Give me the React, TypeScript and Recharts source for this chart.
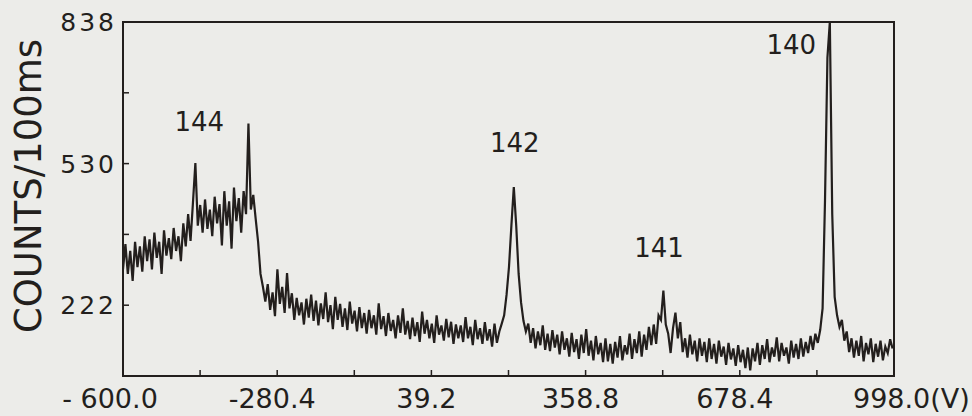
import { LineChart, Line, XAxis, YAxis, ReferenceArea, ReferenceDot } from 'recharts';

const INK = '#231f1d';
const PAPER = '#ecece9';
const FONT = '"DejaVu Sans", sans-serif';

// sampling grid of the recorded spectrum (V)
const VOLT_START = -600;
const VOLT_STEP = 5;

// counts, 20 samples per 100 V
const riseA = [300, 355, 290, 340, 275, 360, 305, 350, 295, 372, 318, 365, 300, 380, 325, 360, 290, 385, 330, 368];
const riseB = [322, 390, 340, 372, 318, 400, 350, 420, 362, 445, 531, 395, 440, 380, 452, 388, 430, 372, 458, 400];
const plateau = [442, 352, 470, 395, 448, 345, 478, 405, 455, 380, 470, 420, 617, 430, 462, 410, 360, 290, 262, 230];
const tailA = [268, 212, 250, 198, 300, 225, 262, 205, 292, 215, 248, 190, 238, 200, 228, 180, 236, 195, 245, 188];
const tailB = [232, 178, 226, 192, 250, 185, 222, 170, 240, 190, 225, 175, 215, 168, 230, 182, 210, 165, 218, 172];
const tailC = [205, 160, 212, 172, 200, 158, 226, 170, 198, 155, 205, 166, 190, 150, 200, 162, 215, 158, 188, 148];
const tailD = [195, 155, 185, 142, 208, 160, 190, 150, 182, 140, 200, 158, 178, 145, 192, 152, 186, 138, 180, 150];
const tailE = [178, 142, 196, 150, 175, 135, 190, 148, 172, 138, 185, 145, 170, 132, 182, 140, 165, 182, 200, 245];
const peak142 = [305, 395, 479, 395, 290, 228, 188, 165, 182, 140, 172, 128, 165, 135, 178, 125, 160, 122, 168, 130];
const floorA = [158, 115, 165, 125, 150, 110, 162, 120, 148, 105, 158, 118, 170, 112, 145, 102, 155, 115, 140, 98];
const floorB = [150, 100, 138, 95, 142, 108, 155, 102, 135, 115, 160, 105, 148, 118, 165, 110, 158, 125, 175, 135];
const peak141 = [180, 138, 200, 190, 254, 180, 160, 118, 172, 206, 150, 185, 120, 150, 108, 158, 115, 145, 100, 150];
const floorC = [112, 142, 98, 150, 105, 138, 95, 145, 110, 132, 92, 140, 104, 128, 90, 135, 98, 125, 85, 130];
const floorD = [80, 128, 100, 140, 92, 135, 105, 148, 98, 130, 110, 152, 100, 140, 112, 130, 95, 145, 108, 138];
const peak140 = [105, 150, 110, 142, 118, 155, 125, 160, 140, 168, 215, 450, 760, 838, 420, 240, 200, 175, 190, 145];
const floorE = [165, 120, 150, 108, 145, 112, 155, 100, 140, 115, 150, 98, 138, 110, 145, 102, 132, 118, 148, 128];

const segments = [riseA, riseB, plateau, tailA, tailB, tailC, tailD, tailE, peak142, floorA, floorB, peak141, floorC, floorD, peak140, floorE];

const spectrum = segments.flat().map((counts, i) => ({ volt: VOLT_START + i * VOLT_STEP, counts }));

const voltTicks = [-600, -440.2, -280.4, -120.6, 39.2, 199, 358.8, 518.6, 678.4, 838.2, 998];
const voltLabels = [-600, -280.4, 39.2, 358.8, 678.4, 998];
const voltLabelText = ['- 600.0', '-280.4', '39.2', '358.8', '678.4', '998.0(V)'];
const countTicks = [68, 222, 376, 530, 684, 838];
const countLabels = [222, 530, 838];

const peakLabels = [
  { volt: -442, counts: 620, text: '144' },
  { volt: 212, counts: 574, text: '142' },
  { volt: 511, counts: 347, text: '141' },
  { volt: 785, counts: 788, text: '140' },
];

const labelIndex = (list: number[], v: number) => list.findIndex((l) => Math.abs(l - v) < 0.01);

function VoltTick(props: any) {
  const { x, y, payload } = props;
  const idx = labelIndex(voltLabels, payload.value);
  const last = idx === voltLabels.length - 1;
  return (
    <g>
      <line x1={x} y1={y} x2={x} y2={y - 6} stroke={INK} strokeWidth={1.5} />
      {idx >= 0 && (
        <text
          x={last ? x - 41 : x - (idx === 0 ? 13 : 5)}
          y={y + 32}
          textAnchor={last ? 'start' : 'middle'}
          fill={INK}
          fontSize={27}
          fontFamily={FONT}
        >
          {voltLabelText[idx]}
        </text>
      )}
    </g>
  );
}

function CountTick(props: any) {
  const { x, y, payload } = props;
  const v = payload.value;
  return (
    <g>
      <line x1={x} y1={y} x2={x + 6} y2={y} stroke={INK} strokeWidth={1.5} />
      {labelIndex(countLabels, v) >= 0 && (
        <text
          x={x - 6}
          y={y + 9}
          textAnchor="end"
          fill={INK}
          fontSize={25}
          letterSpacing={3}
          fontFamily={FONT}
        >
          {v}
        </text>
      )}
    </g>
  );
}

function AxisTitle(props: any) {
  const { viewBox } = props;
  const cx = viewBox.x + 28;
  const cy = viewBox.y + viewBox.height / 2 - 13;
  return (
    <text
      x={cx}
      y={cy}
      transform={`rotate(-90 ${cx} ${cy})`}
      textAnchor="middle"
      dominantBaseline="central"
      fill={INK}
      fontSize={37}
      fontFamily={FONT}
    >
      COUNTS/100ms
    </text>
  );
}

function PeakLabel(props: any) {
  const { viewBox, value } = props;
  return (
    <text
      x={viewBox.x}
      y={viewBox.y}
      textAnchor="middle"
      dominantBaseline="central"
      fill={INK}
      fontSize={26}
      fontFamily={FONT}
    >
      {value}
    </text>
  );
}

export default function App() {
  return (
    <div style={{ position: 'absolute', left: 0, top: 0, width: 972, height: 416, background: PAPER }}>
      <LineChart width={972} height={416} data={spectrum} margin={{ top: 22, right: 78, bottom: 0, left: 0 }}>
        <XAxis
          dataKey="volt"
          type="number"
          domain={[-600, 998]}
          ticks={voltTicks}
          allowDataOverflow
          height={40}
          tickSize={0}
          tickMargin={0}
          tickLine={false}
          axisLine={{ stroke: INK, strokeWidth: 2 }}
          tick={<VoltTick />}
          interval={0}
        />
        <YAxis
          type="number"
          domain={[68, 838]}
          ticks={countTicks}
          allowDataOverflow
          width={123}
          tickSize={0}
          tickMargin={0}
          tickLine={false}
          axisLine={{ stroke: INK, strokeWidth: 2 }}
          tick={<CountTick />}
          interval={0}
          label={<AxisTitle />}
        />
        <ReferenceArea x1={-600} x2={998} y1={68} y2={838} fill="none" stroke={INK} strokeWidth={2} ifOverflow="visible" />
        <Line
          type="linear"
          dataKey="counts"
          stroke={INK}
          strokeWidth={2.2}
          dot={false}
          isAnimationActive={false}
        />
        {peakLabels.map((p) => (
          <ReferenceDot
            key={p.text}
            x={p.volt}
            y={p.counts}
            r={0}
            fill="none"
            stroke="none"
            ifOverflow="visible"
            label={<PeakLabel value={p.text} />}
          />
        ))}
      </LineChart>
    </div>
  );
}
